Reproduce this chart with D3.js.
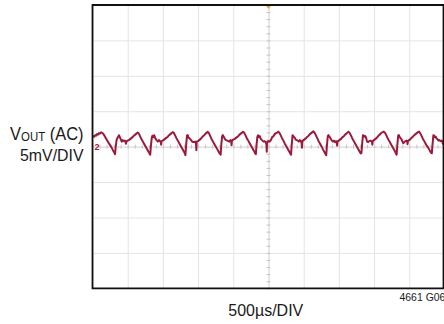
<!DOCTYPE html>
<html>
<head>
<meta charset="utf-8">
<script src="https://cdn.jsdelivr.net/npm/d3@7"></script>
<style>
  html, body { margin: 0; padding: 0; background: #ffffff; }
  svg { display: block; }
  text { font-family: "Liberation Sans", Arial, sans-serif; fill: #1a1a1a; }
</style>
</head>
<body>
<svg id="scope" width="444" height="324"></svg>
<script>
// Scope settings: 10 horizontal divisions of 500 µs, 8 vertical divisions of 5 mV
const timeDivUs = 500;
const voltDivMv = 5;
const timeDivs = d3.range(0, 11).map(d => d * timeDivUs);       // 0 … 5000 µs
const voltDivs = d3.range(-4, 5).map(d => d * voltDivMv);       // -20 … 20 mV

// Axis captions
const yLabelTop = ["V", "OUT", " (AC)"];
const yLabelBottom = "5mV/DIV";
const xLabel = "500µs/DIV";
const figureId = "4661 G06";
const channelMark = "2";

// VOUT ripple capture: [time µs, AC voltage mV]
const voutTrace = [
  [0,1.34],[12,1.48],[24,1.41],[36,1.62],[50,1.55],[64,1.77],[78,1.70],[92,1.91],[106,1.84],[122,2.02],[136,1.98],[150,1.84],[166,1.62],[182,1.34],[198,1.06],[214,0.78],[232,0.49],[250,0.21],[268,-0.07],[286,-0.42],[302,-0.71],[314,-0.95],
  [320,-1.06],[330,0.00],[342,0.92],[352,1.20],[364,1.41],[376,1.62],[388,1.34],[400,1.06],[415,0.71],[430,0.92],[445,0.78],[460,0.85],[470,0.64],[475,0.42],[481,0.71],[498,0.85],[516,0.92],[534,1.06],[552,1.20],[570,1.34],[588,1.55],[606,1.70],[624,1.84],[638,1.98],[654,1.91],[672,1.55],[692,1.13],[712,0.78],[732,0.42],[752,0.07],[772,-0.28],[792,-0.64],[808,-0.92],
  [820,-1.13],[830,0.14],[842,1.27],[852,1.55],[864,1.34],[876,1.62],[888,1.27],[900,1.06],[915,0.85],[930,0.71],[945,0.92],[960,0.78],[970,0.64],[975,0.28],[981,0.78],[998,0.85],[1016,0.99],[1034,1.13],[1052,1.27],[1070,1.41],[1088,1.62],[1106,1.77],[1124,1.91],[1138,2.05],[1154,1.95],[1172,1.62],[1192,1.20],[1212,0.85],[1232,0.49],[1252,0.14],[1272,-0.21],[1292,-0.57],[1308,-0.88],
  [1320,-1.20],[1330,0.21],[1342,1.55],[1352,1.62],[1364,1.27],[1376,1.20],[1388,1.06],[1400,0.92],[1415,0.71],[1430,0.64],[1445,0.64],[1460,0.71],[1470,0.42],[1475,-0.49],[1481,0.71],[1498,0.78],[1516,0.92],[1534,1.06],[1552,1.27],[1570,1.48],[1588,1.62],[1606,1.84],[1624,1.98],[1638,2.09],[1654,1.91],[1672,1.48],[1692,1.06],[1712,0.71],[1732,0.35],[1752,0.00],[1772,-0.35],[1792,-0.71],[1808,-0.99],
  [1820,-1.13],[1830,0.35],[1842,1.48],[1852,1.62],[1864,1.41],[1876,1.20],[1888,0.99],[1900,0.92],[1915,0.85],[1930,0.78],[1945,0.71],[1960,0.92],[1970,0.78],[1975,0.21],[1981,0.85],[1998,0.99],[2016,1.06],[2034,1.20],[2052,1.34],[2070,1.48],[2088,1.70],[2106,1.84],[2124,1.98],[2138,2.09],[2154,1.98],[2172,1.62],[2192,1.20],[2212,0.85],[2232,0.49],[2252,0.14],[2272,-0.21],[2292,-0.57],[2308,-0.92],
  [2320,-1.06],[2330,0.21],[2342,1.41],[2352,1.62],[2364,1.34],[2376,1.48],[2388,1.13],[2400,0.99],[2415,0.85],[2430,0.71],[2445,0.78],[2460,0.64],[2470,0.35],[2475,-0.71],[2481,0.64],[2498,0.78],[2516,0.71],[2534,0.92],[2552,1.34],[2570,1.48],[2588,1.77],[2606,1.91],[2624,1.98],[2638,2.12],[2654,1.98],[2672,1.62],[2692,1.20],[2712,0.85],[2732,0.42],[2752,0.07],[2772,-0.28],[2792,-0.64],[2808,-0.95],
  [2820,-1.13],[2830,0.28],[2842,1.62],[2852,1.48],[2864,1.34],[2876,1.20],[2888,0.99],[2900,0.92],[2915,0.85],[2930,0.71],[2945,0.92],[2960,0.78],[2970,0.49],[2975,-0.14],[2981,0.78],[2998,0.92],[3016,1.06],[3034,1.20],[3052,1.41],[3070,1.55],[3088,1.77],[3106,1.91],[3124,2.05],[3138,2.16],[3154,1.98],[3172,1.62],[3192,1.20],[3212,0.78],[3232,0.42],[3252,0.07],[3272,-0.35],[3292,-0.71],[3308,-0.99],
  [3320,-1.20],[3330,0.14],[3342,1.48],[3352,1.62],[3364,1.41],[3376,1.27],[3388,1.06],[3400,0.85],[3415,0.71],[3430,0.85],[3445,0.64],[3460,0.78],[3470,0.57],[3475,0.14],[3481,0.71],[3498,0.85],[3516,0.99],[3534,1.13],[3552,1.34],[3570,1.48],[3588,1.70],[3606,1.84],[3624,2.02],[3638,2.09],[3654,1.91],[3672,1.55],[3692,1.13],[3712,0.78],[3732,0.42],[3752,0.07],[3772,-0.28],[3792,-0.64],[3808,-0.95],
  [3820,-0.92],[3830,0.35],[3842,1.62],[3852,1.55],[3864,1.41],[3876,1.48],[3888,1.20],[3900,0.71],[3915,0.64],[3930,0.78],[3945,0.85],[3960,0.78],[3970,0.64],[3975,0.28],[3981,0.78],[3998,0.92],[4016,1.06],[4034,1.20],[4052,1.41],[4070,1.62],[4088,1.77],[4106,1.98],[4124,2.05],[4138,2.12],[4154,1.98],[4172,1.62],[4192,1.20],[4212,0.85],[4232,0.49],[4252,0.14],[4272,-0.21],[4292,-0.57],[4308,-0.92],
  [4320,-1.13],[4330,0.21],[4342,1.55],[4352,1.62],[4364,1.34],[4376,1.20],[4388,1.06],[4400,0.78],[4415,0.49],[4430,0.64],[4445,0.78],[4460,0.85],[4470,0.71],[4475,0.35],[4481,0.78],[4498,0.92],[4516,1.06],[4534,1.27],[4552,1.41],[4570,1.62],[4588,1.77],[4606,1.91],[4624,2.05],[4638,2.12],[4654,1.91],[4672,1.55],[4692,1.13],[4712,0.78],[4732,0.42],[4752,0.07],[4772,-0.21],[4792,-0.57],[4808,-0.85],
  [4820,-0.92],[4830,0.28],[4842,1.62],[4852,1.55],[4864,1.34],[4876,1.41],[4888,1.13],[4900,1.06],[4915,0.85],[4930,0.92],[4945,0.78],[4960,0.85],[4970,0.71],[4975,0.42],[4981,0.78],[5000,0.64]
];

const svg = d3.select("#scope");
const plot = { left: 92.5, right: 444.5, top: 5, bottom: 288.3 };

const x = d3.scaleLinear().domain([0, 10 * timeDivUs]).range([plot.left, plot.right]);
const y = d3.scaleLinear().domain([-4 * voltDivMv, 4 * voltDivMv]).range([plot.bottom, plot.top]);

// Graticule
const grid = svg.append("g").attr("class", "graticule");
grid.append("g")
  .attr("transform", `translate(0,${plot.bottom})`)
  .call(d3.axisBottom(x).tickValues(timeDivs).tickSize(-(plot.bottom - plot.top)).tickFormat(""))
  .call(g => g.select(".domain").remove())
  .call(g => g.selectAll("line").attr("stroke", "#e4e4e4").attr("stroke-width", 1));
grid.append("g")
  .attr("transform", `translate(${plot.left},0)`)
  .call(d3.axisLeft(y).tickValues(voltDivs).tickSize(-(plot.right - plot.left)).tickFormat(""))
  .call(g => g.select(".domain").remove())
  .call(g => g.selectAll("line").attr("stroke", "#e4e4e4").attr("stroke-width", 1));

// Centre cross-hair with minor ticks (5 per division)
const xMid = x(5 * timeDivUs), yMid = y(0);
const minorT = d3.range(0, 51).map(d => d * timeDivUs / 5);
const minorV = d3.range(-20, 21).map(d => d * voltDivMv / 5);
grid.append("g")
  .attr("transform", `translate(0,${yMid})`)
  .call(d3.axisBottom(x).tickValues(minorT).tickSize(2).tickSizeOuter(0).tickFormat(""))
  .call(g => g.select(".domain").attr("stroke", "#dcdcdc"))
  .call(g => g.selectAll("line").attr("stroke", "#c4c4c4").attr("y1", -2));
grid.append("g")
  .attr("transform", `translate(${xMid},0)`)
  .call(d3.axisLeft(y).tickValues(minorV).tickSize(2).tickSizeOuter(0).tickFormat(""))
  .call(g => g.select(".domain").attr("stroke", "#dcdcdc"))
  .call(g => g.selectAll("line").attr("stroke", "#c4c4c4").attr("x1", 2));

// Trace
svg.append("clipPath").attr("id", "screen")
  .append("rect").attr("x", plot.left).attr("y", plot.top)
  .attr("width", plot.right - plot.left).attr("height", plot.bottom - plot.top);

const line = d3.line().x(d => x(d[0])).y(d => y(d[1]));
svg.append("path")
  .datum(voutTrace)
  .attr("clip-path", "url(#screen)")
  .attr("fill", "none")
  .attr("stroke", "#9b1a3c")
  .attr("stroke-width", 2)
  .attr("stroke-linejoin", "round")
  .attr("d", line);

// Channel marker and trigger marker
svg.append("text")
  .attr("x", plot.left + 2).attr("y", yMid + 3)
  .attr("font-size", 9).attr("font-weight", "bold")
  .style("fill", "#9b1a3c")
  .text(channelMark);
svg.append("path")
  .attr("d", `M${xMid - 3},${plot.top} L${xMid + 3},${plot.top} L${xMid},${plot.top + 4}Z`)
  .attr("fill", "#f2a31b");

// Frame
svg.append("path")
  .attr("d", `M${plot.left},${plot.top} V${plot.bottom} H443.5 V${plot.top} Z`)
  .attr("fill", "none").attr("stroke", "#111").attr("stroke-width", 1.8);

// Labels, fitted horizontally to a condensed width
function fitWidth(sel, width) {
  const w = sel.node().getComputedTextLength();
  return w > 0 ? width / w : 1;
}
function placeLabel(build, anchorX, baseline, width, anchor) {
  const g = svg.append("g");
  const t = build(g.append("text").attr("text-anchor", anchor));
  const k = fitWidth(t, width);
  g.attr("transform", `translate(${anchorX},${baseline}) scale(${k},1)`);
}

placeLabel(t => {
  t.append("tspan").attr("font-size", 18).text(yLabelTop[0]);
  t.append("tspan").attr("font-size", 12.5).attr("dy", 1.5).text(yLabelTop[1]);
  t.append("tspan").attr("font-size", 18).attr("dy", -1.5).text(yLabelTop[2]);
  return t;
}, 83.5, 139.5, 73.5, "end");

placeLabel(t => t.attr("font-size", 17).text(yLabelBottom), 83.5, 160.7, 63.5, "end");
placeLabel(t => t.attr("font-size", 17).text(xLabel), 228.3, 316.3, 75, "start");
placeLabel(t => t.attr("font-size", 10).text(figureId), 399.5, 301, 46, "start");
</script>
</body>
</html>
